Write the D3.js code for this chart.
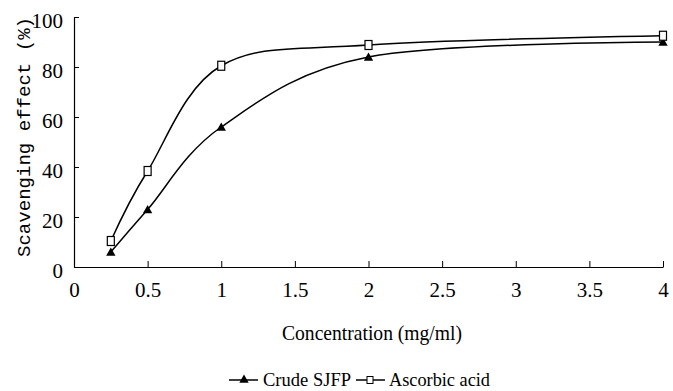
<!DOCTYPE html>
<html>
<head>
<meta charset="utf-8">
<script src="https://cdn.jsdelivr.net/npm/d3@7"></script>
<style>
  body { margin: 0; background: #fff; }
  svg text { fill: #000; }
</style>
</head>
<body>
<div id="chart"></div>
<script>
// chart data
let concentrations = [0.25, 0.5, 1, 2, 4];
let crudeSJFP = [6, 23, 56, 84, 90];
let ascorbicAcid = [10.4, 38.4, 80.5, 88.8, 92.5];
let xTicks = [0, 0.5, 1, 1.5, 2, 2.5, 3, 3.5, 4];
let yTicks = [0, 20, 40, 60, 80, 100];

let svgWidth = 673;
let svgHeight = 391;

let margin = { top: 17, right: 10, bottom: 124, left: 74 };
let width = 663 - margin.left;
let height = 267 - margin.top;

var serifFont = "Liberation Serif";
var monoFont = "Liberation Mono";

var svg = d3.select("#chart")
    .append("svg")
    .attr("width", svgWidth)
    .attr("height", svgHeight);

var chartGroup = svg.append("g")
    .attr("transform", `translate(${margin.left}, ${margin.top})`);

var xScale = d3.scaleLinear().domain([0, 4]).range([0, width]);
var yScale = d3.scaleLinear().domain([0, 100]).range([height, 0]);

// x axis, ticks pointing up into the plot
var xAxis = chartGroup.append("g")
    .attr("transform", `translate(0, ${height})`)
    .call(d3.axisBottom(xScale).tickValues(xTicks).tickSizeInner(-6).tickSizeOuter(0).tickPadding(26)
        .tickFormat(d => String(d)));

// y axis, ticks pointing right
var yAxis = chartGroup.append("g")
    .call(d3.axisLeft(yScale).tickValues(yTicks).tickSizeInner(-5).tickSizeOuter(0).tickPadding(11));

[xAxis, yAxis].forEach(ax => {
    ax.attr("font-family", serifFont).attr("font-size", 21);
    ax.select(".domain").attr("stroke", "#000").attr("stroke-width", 1.2);
    ax.selectAll(".tick line").attr("stroke", "#000").attr("stroke-width", 1);
    ax.selectAll(".tick text").attr("fill", "#000");
});
yAxis.selectAll(".tick text").attr("dy", "0.52em");
xAxis.selectAll(".tick text").attr("dy", "0.2em");
xAxis.selectAll(".tick").filter(d => d === 0).select("line").remove();

// smoothed lines
var line = d3.line()
    .x((d, i) => xScale(concentrations[i]))
    .y(d => yScale(d))
    .curve(d3.curveCatmullRom.alpha(0));

chartGroup.append("path")
    .datum(ascorbicAcid)
    .attr("d", line)
    .attr("fill", "none")
    .attr("stroke", "#000")
    .attr("stroke-width", 1.5);

chartGroup.append("path")
    .datum(crudeSJFP)
    .attr("d", line)
    .attr("fill", "none")
    .attr("stroke", "#000")
    .attr("stroke-width", 1.5);

var triangle = d3.symbol().type(d3.symbolTriangle).size(38);

// triangles for crude SJFP
chartGroup.selectAll(".tri")
    .data(crudeSJFP)
    .enter()
    .append("path")
    .attr("class", "tri")
    .attr("d", triangle)
    .attr("transform", (d, i) => `translate(${xScale(concentrations[i])}, ${yScale(d) + 1})`)
    .attr("fill", "#000");

// squares for ascorbic acid
chartGroup.selectAll(".sq")
    .data(ascorbicAcid)
    .enter()
    .append("rect")
    .attr("class", "sq")
    .attr("x", (d, i) => xScale(concentrations[i]) - 3.5)
    .attr("y", d => yScale(d) - 4.5)
    .attr("width", 7)
    .attr("height", 9)
    .attr("fill", "#fff")
    .attr("stroke", "#000")
    .attr("stroke-width", 1.2);

// axis titles
svg.append("text")
    .attr("x", 282)
    .attr("y", 340)
    .attr("font-family", serifFont)
    .attr("font-size", 21)
    .attr("fill", "#000")
    .attr("textLength", 180)
    .attr("lengthAdjust", "spacingAndGlyphs")
    .text("Concentration (mg/ml)");

svg.append("text")
    .attr("transform", "translate(30, 257) rotate(-90)")
    .attr("font-family", monoFont)
    .attr("font-size", 18)
    .attr("fill", "#000")
    .attr("textLength", 240)
    .attr("lengthAdjust", "spacingAndGlyphs")
    .text("Scavenging effect (%)");

// legend
var legend = svg.append("g");
var legendY = 380;

legend.append("line")
    .attr("x1", 229).attr("x2", 258)
    .attr("y1", legendY).attr("y2", legendY)
    .attr("stroke", "#000").attr("stroke-width", 1.5);
legend.append("path")
    .attr("d", triangle)
    .attr("transform", `translate(244, ${legendY})`)
    .attr("fill", "#000");
legend.append("text")
    .attr("x", 263).attr("y", legendY + 6)
    .attr("font-family", serifFont)
    .attr("font-size", 19)
    .attr("fill", "#000")
    .attr("textLength", 88)
    .attr("lengthAdjust", "spacingAndGlyphs")
    .text("Crude SJFP");

legend.append("line")
    .attr("x1", 356).attr("x2", 385)
    .attr("y1", legendY).attr("y2", legendY)
    .attr("stroke", "#000").attr("stroke-width", 1.5);
legend.append("rect")
    .attr("x", 367).attr("y", legendY - 3.5)
    .attr("width", 6).attr("height", 7)
    .attr("fill", "#fff").attr("stroke", "#000").attr("stroke-width", 1);
legend.append("text")
    .attr("x", 389).attr("y", legendY + 6)
    .attr("font-family", serifFont)
    .attr("font-size", 19)
    .attr("fill", "#000")
    .attr("textLength", 101)
    .attr("lengthAdjust", "spacingAndGlyphs")
    .text("Ascorbic acid");
</script>
</body>
</html>
